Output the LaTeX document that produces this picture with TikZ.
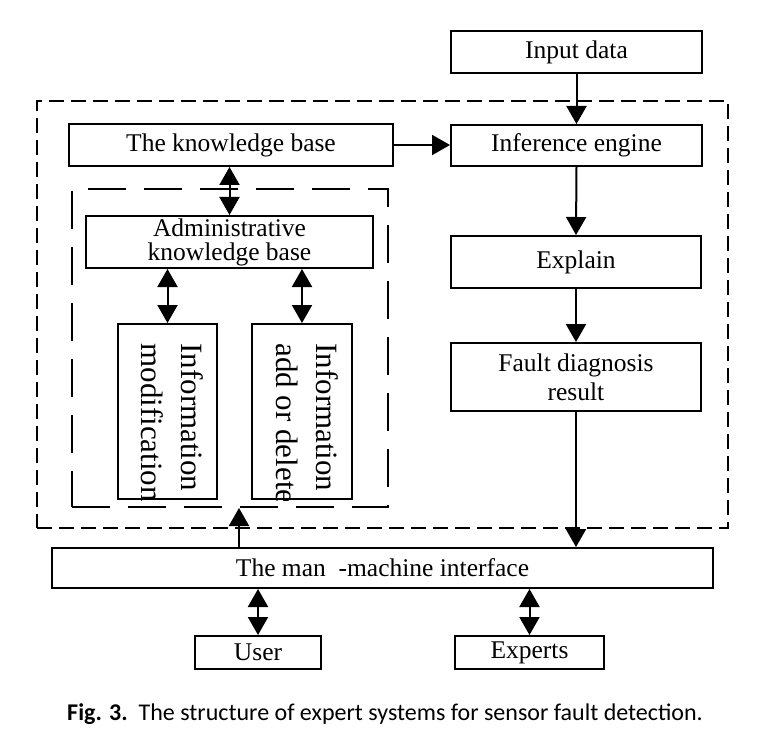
\documentclass[tikz,border=0pt]{standalone}
\usepackage{fontspec}
\setmainfont{Liberation Serif}
\newfontfamily\capfont{Carlito}
\usetikzlibrary{arrows.meta,positioning}
\tikzstyle{block} = [draw, line width=1pt, rectangle, inner sep=0pt, align=center, font=\fontsize{12.75}{12}\selectfont]
\tikzstyle{vtext} = [inner sep=0pt, rotate=-90, anchor=north west, align=left, font=\fontsize{15.5}{20}\selectfont]
\tikzstyle{frame} = [draw, line width=1pt, rectangle, inner sep=0pt]
\tikzstyle{link} = [line width=1pt, ->]
\tikzstyle{both} = [line width=1pt, <->]

\begin{document}
\begin{tikzpicture}[x=0.5pt, y=-0.5pt, >={Triangle[length=9pt, width=10pt]}]
\useasboundingbox (0,0) rectangle (761,749);
\node[frame, dash pattern=on 7.5pt off 3.5pt, minimum width=345.5pt, minimum height=213.5pt] (system) at (382.5,314.5) {};
\node[frame, dash pattern=on 19pt off 9pt, minimum width=158pt, minimum height=159pt] (mgmt) at (230,348) {};
\node[block, minimum width=125.5pt, minimum height=21pt] (input) at (576.5,52) {Input data};
\node[block, minimum width=125.5pt, minimum height=20.5pt] (infer) at (576.5,145.5) {Inference engine};
\node[block, minimum width=125pt, minimum height=26pt] (explain) at (576,262) {Explain};
\node[block, minimum width=125pt, minimum height=34pt, font=\fontsize{12.75}{14.5}\selectfont] (fault) at (576,377) {Fault diagnosis\\result};
\node[block, minimum width=162pt, minimum height=21pt] (kb) at (231,145) {The knowledge base};
\node[block, minimum width=143.5pt, minimum height=26pt] (admin) at (229.5,242) {Administrative\\knowledge base};
\node[block, minimum width=49.5pt, minimum height=87.5pt] (infomod) at (167.5,411.5) {};
\node[block, minimum width=50pt, minimum height=87.5pt] (infoadd) at (302,411.5) {};
\begin{scope}
\clip (infomod.south west) rectangle (infomod.north east);
\node[vtext] (infomodtext) at (204,343) {Information\\modification};
\end{scope}
\begin{scope}
\clip (infoadd.south west) rectangle (infoadd.north east);
\node[vtext] (infoaddtext) at (339,343) {Information\\add or delete};
\end{scope}
\node[block, minimum width=330.5pt, minimum height=20pt] (mmi) at (382.5,568) {The man\ \ -machine interface};
\node[block, minimum width=63pt, minimum height=16.5pt] (user) at (258,652.5) {User};
\node[block, minimum width=74.5pt, minimum height=16.5pt] (experts) at (529.5,652.5) {Experts};
\node[font=\capfont\fontsize{12}{14}\selectfont, inner sep=0pt] (caption) at (385,714) {\textbf{Fig. 3.}\ \ The structure of expert systems for sensor fault detection.};

\draw[link] (input.south) -- (infer.north);
\draw[link] (kb.east) -- (kb.east -| infer.west);
\draw[link] (infer.south) -- (explain.north);
\draw[link] (explain.south) -- (fault.north);
\draw[link] (fault.south) -- (fault.south |- mmi.north);
\draw[both] (admin.north |- kb.south) -- (admin.north);
\draw[both] (infomod.north |- admin.south) -- (infomod.north);
\draw[both] (infoadd.north |- admin.south) -- (infoadd.north);
\coordinate (feed) at (239,548);
\draw[link] (feed) -- (feed |- mgmt.south);
\draw[both] (user.north |- mmi.south) -- (user.north);
\draw[both] (experts.north |- mmi.south) -- (experts.north);
\end{tikzpicture}
\end{document}
